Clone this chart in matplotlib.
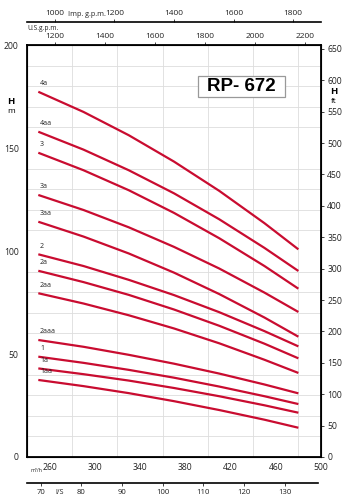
import numpy as np
import matplotlib
matplotlib.use("Agg")
import matplotlib.pyplot as plt
from matplotlib.patches import Rectangle

plt.rcParams['font.family'] = ['Open Sans', 'DejaVu Sans']

# ---- data ----
flow_m3h = [250, 290, 330, 370, 410, 450, 480]
curve_names = ["4a", "4aa", "3", "3a", "3aa", "2", "2a", "2aa", "2aaa", "1", "1a", "1aa"]
h_4a   = [177.3, 167.5, 156.2, 143.4, 129.2, 113.5, 100.8]
h_4aa  = [157.9, 149.2, 139.2, 128.0, 115.4, 101.5, 90.3]
h_3    = [147.7, 139.2, 129.5, 118.5, 106.2, 92.7, 81.7]
h_3a   = [127.2, 119.9, 111.5, 102.0, 91.5, 79.8, 70.4]
h_3aa  = [114.2, 107.0, 98.8, 89.5, 79.1, 67.7, 58.4]
h_2    = [98.4, 92.7, 86.0, 78.6, 70.3, 61.1, 53.7]
h_2a   = [90.4, 84.9, 78.7, 71.6, 63.7, 55.0, 47.9]
h_2aa  = [79.5, 74.5, 68.8, 62.4, 55.2, 47.2, 40.8]
h_2aaa = [56.8, 53.5, 49.6, 45.3, 40.5, 35.2, 30.9]
h_1    = [48.7, 45.7, 42.3, 38.5, 34.2, 29.5, 25.7]
h_1a   = [43.0, 40.2, 37.1, 33.5, 29.5, 25.1, 21.5]
h_1aa  = [37.4, 34.4, 31.0, 27.1, 22.8, 18.1, 14.2]
curves = [h_4a, h_4aa, h_3, h_3a, h_3aa, h_2, h_2a, h_2aa, h_2aaa, h_1, h_1a, h_1aa]

m3h_ticks = [260, 300, 340, 380, 420, 460, 500]
m_ticks = [0, 50, 100, 150, 200]
ft_ticks = list(range(0, 651, 50))
usgpm_ticks = [1200, 1400, 1600, 1800, 2000, 2200]
impgpm_ticks = [1000, 1200, 1400, 1600, 1800]
ls_ticks = [70, 80, 90, 100, 110, 120, 130]
title_text = "RP- 672"

# ---- figure ----
W, H = 352, 500
fig = plt.figure(figsize=(W / 100, H / 100), dpi=100)

def fx(px):
    return px / W

def fy(py):
    return 1 - py / H

L, R, T, B = 27, 321, 45, 457
ax = fig.add_axes([fx(L), fy(B), fx(R - L), (B - T) / H])
ax.set_xlim(240, 500)
ax.set_ylim(0, 200)

red = "#c90c30"
for name, hv in zip(curve_names, curves):
    ax.plot(flow_m3h, hv, color=red, lw=1.6, solid_capstyle='butt', zorder=3)
    ax.text(flow_m3h[0] + 1.5, hv[0] + 2.2, name, fontsize=5.0, color="#222222",
            ha='left', va='bottom', zorder=4)

ax.set_xticks(np.arange(260, 500, 20), minor=True)
ax.set_yticks(np.arange(10, 200, 10), minor=True)
ax.grid(True, which='minor', color='#dddddd', lw=0.6)
ax.set_xticks(m3h_ticks)
ax.set_yticks(m_ticks)
ax.tick_params(axis='x', which='both', length=0, labelsize=6.2, pad=4, colors='#222222')
ax.tick_params(axis='y', which='both', length=0, labelsize=6.2, pad=6, colors='#222222')
for s in ax.spines.values():
    s.set_linewidth(1.3)
ax.text(243, -6.5, "m³/h", fontsize=3.8, ha='left', va='center', color='#222222')

ax.text(-0.055, 0.862, "H", transform=ax.transAxes, fontsize=6.8, fontweight='bold',
        ha='center', va='center')
ax.text(-0.055, 0.838, "m", transform=ax.transAxes, fontsize=6.0, ha='center', va='center')

# right ft axis
axr = ax.twinx()
axr.set_ylim(0, 200 * 3.2808)
axr.set_yticks(ft_ticks)
axr.tick_params(axis='y', length=2.5, width=0.6, labelsize=6.2, pad=2, colors='#222222')
axr.text(1.045, 0.886, "H", transform=ax.transAxes, fontsize=6.8, fontweight='bold',
         ha='center', va='center')
axr.text(1.045, 0.862, "ft", transform=ax.transAxes, fontsize=6.0, ha='center', va='center')

# top US gpm axis (mapped linearly as drawn on the chart)
def to_us(q):
    return 1088 + (np.asarray(q) - 240) * (2264 - 1088) / 260

def from_us(g):
    return 240 + (np.asarray(g) - 1088) * 260 / (2264 - 1088)

sec = ax.secondary_xaxis('top', functions=(to_us, from_us))
sec.set_xticks(usgpm_ticks)
sec.tick_params(length=2.5, width=0.6, labelsize=6.0, pad=1, colors='#222222')
sec.spines['top'].set_visible(False)
fig.text(fx(27), fy(29), "U.S.g.p.m.", fontsize=4.8, ha='left', va='center', color='#222222')

# Imp gpm axis line
axi = fig.add_axes([fx(27), fy(22), fx(294), 0.0001])
axi.set_xlim(906, 1894)
for k in ['left', 'right', 'bottom']:
    axi.spines[k].set_visible(False)
axi.spines['top'].set_linewidth(1.2)
axi.set_yticks([])
axi.xaxis.set_ticks_position('top')
axi.set_xticks(impgpm_ticks)
axi.tick_params(axis='x', length=2, width=0.6, labelsize=6.0, pad=1.5, colors='#222222')
axi.patch.set_visible(False)
fig.text(fx(68), fy(14), "Imp. g.p.m.", fontsize=5.2, ha='left', va='center', color='#222222')

# l/s axis line
axl = fig.add_axes([fx(27), fy(483), fx(291), 0.0001])
axl.set_xlim(240 / 3.6, (240 + 291 / 1.1308) / 3.6)
for k in ['left', 'right', 'top']:
    axl.spines[k].set_visible(False)
axl.spines['bottom'].set_linewidth(1.2)
axl.set_yticks([])
axl.set_xticks(ls_ticks)
axl.tick_params(axis='x', length=2, width=0.6, labelsize=5.6, pad=2, colors='#222222')
axl.patch.set_visible(False)
fig.text(fx(60), fy(492), "l/S", fontsize=5.2, ha='center', va='center', color='#222222')

# title box
ax.add_patch(Rectangle((391.2, 174.8), 76.9, 10.1, fc='white', ec='#999999', lw=0.9, zorder=5))
ax.text(429.6, 179.9, title_text, fontsize=13.5, fontweight='bold',
        family=['Liberation Sans', 'DejaVu Sans'], ha='center', va='center', zorder=6)

fig.savefig("out.png", dpi=100)
